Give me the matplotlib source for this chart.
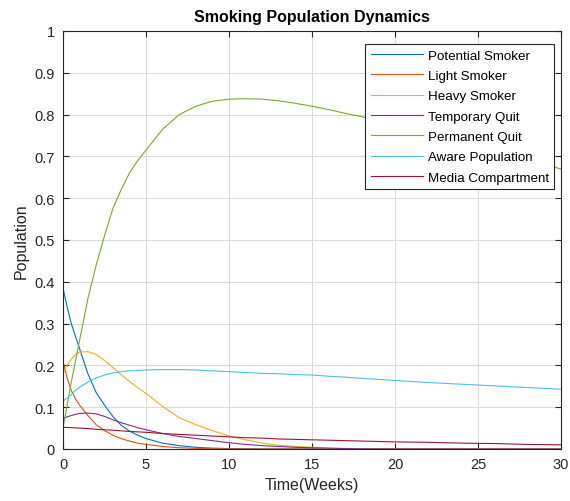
import matplotlib
matplotlib.use("Agg")
import matplotlib.pyplot as plt

plt.rcParams['font.family'] = ['Liberation Sans', 'DejaVu Sans']

time = [0, 0.25, 0.5, 0.75, 1, 1.5, 2, 2.5, 3, 3.5, 4, 4.5, 5, 6, 7, 8, 9, 10, 11,
        12, 13, 14, 15, 16, 17, 18, 20, 22, 24, 26, 28, 30]

potential = [0.385, 0.34, 0.30, 0.27, 0.24, 0.18, 0.135, 0.105, 0.078, 0.057, 0.043,
             0.033, 0.025, 0.014, 0.008, 0.004, 0.002, 0.001, 0.0005,
             0.0, 0.0, 0.0, 0.0, 0.0, 0.0, 0.0, 0.0, 0.0, 0.0, 0.0, 0.0, 0.0]
light = [0.21, 0.17, 0.14, 0.12, 0.105, 0.08, 0.058, 0.044, 0.033, 0.025, 0.019,
         0.014, 0.011, 0.006, 0.003, 0.0015, 0.0007, 0.0003, 0.0001,
         0.0, 0.0, 0.0, 0.0, 0.0, 0.0, 0.0, 0.0, 0.0, 0.0, 0.0, 0.0, 0.0]
heavy = [0.18, 0.20, 0.215, 0.226, 0.232, 0.233, 0.226, 0.212, 0.195, 0.178, 0.162,
         0.147, 0.133, 0.102, 0.075, 0.058, 0.044, 0.031, 0.022,
         0.014, 0.009, 0.006, 0.004, 0.002, 0.001, 0.0005, 0.0, 0.0, 0.0, 0.0, 0.0, 0.0]
temporary = [0.072, 0.077, 0.08, 0.083, 0.085, 0.086, 0.084, 0.078, 0.07, 0.063, 0.057,
             0.051, 0.046, 0.037, 0.03, 0.025, 0.02, 0.015, 0.011,
             0.008, 0.006, 0.004, 0.003, 0.002, 0.001, 0.0005, 0.0, 0.0, 0.0, 0.0, 0.0, 0.0]
permanent = [0.05, 0.105, 0.16, 0.21, 0.26, 0.36, 0.44, 0.51, 0.575, 0.62, 0.66,
             0.69, 0.715, 0.765, 0.80, 0.82, 0.832, 0.837, 0.838,
             0.837, 0.833, 0.827, 0.82, 0.812, 0.803, 0.795, 0.775, 0.755, 0.735,
             0.713, 0.692, 0.67]
aware = [0.115, 0.122, 0.13, 0.14, 0.148, 0.16, 0.17, 0.177, 0.182, 0.185, 0.187,
         0.188, 0.189, 0.19, 0.19, 0.189, 0.187, 0.185, 0.183,
         0.181, 0.18, 0.178, 0.177, 0.174, 0.172, 0.169, 0.164, 0.159, 0.155,
         0.151, 0.147, 0.143]
media = [0.052, 0.0515, 0.051, 0.0505, 0.05, 0.049, 0.047, 0.046, 0.045, 0.0435, 0.042,
         0.041, 0.04, 0.037, 0.035, 0.033, 0.031, 0.029, 0.027,
         0.026, 0.024, 0.023, 0.022, 0.021, 0.02, 0.019, 0.017, 0.016, 0.014,
         0.013, 0.011, 0.01]

labels = ['Potential Smoker', 'Light Smoker', 'Heavy Smoker', 'Temporary Quit',
          'Permanent Quit', 'Aware Population', 'Media Compartment']
colors = ['#0072BD', '#D95319', '#EDB120', '#7E2F8E', '#77AC30', '#4DBEEE', '#A2142F']
series = [potential, light, heavy, temporary, permanent, aware, media]

xticks = [0, 5, 10, 15, 20, 25, 30]
yticks = [0, 0.1, 0.2, 0.3, 0.4, 0.5, 0.6, 0.7, 0.8, 0.9, 1]
ytick_labels = ['0', '0.1', '0.2', '0.3', '0.4', '0.5', '0.6', '0.7', '0.8', '0.9', '1']

fig = plt.figure(figsize=(5.7, 5.02), dpi=100)
ax = fig.add_axes([63/570, 52/502, 498/570, 418/502])

for s, lab, c in zip(series, labels, colors):
    ax.plot(time, s, color=c, lw=0.8, label=lab)

ax.set_xlim(0, 30)
ax.set_ylim(0, 1)
ax.set_xticks(xticks)
ax.set_xticklabels([str(v) for v in xticks])
ax.set_yticks(yticks)
ax.set_yticklabels(ytick_labels)
ax.grid(True, color='#dcdcdc', lw=0.8)
ax.set_axisbelow(True)
ax.tick_params(direction='in', length=4, width=0.8, colors='#262626',
               labelsize=10.5, top=True, right=True, pad=6)
for sp in ax.spines.values():
    sp.set_color('#262626')
    sp.set_linewidth(0.8)

ax.set_title('Smoking Population Dynamics', fontsize=11.5, fontweight='bold', pad=7)
ax.set_xlabel('Time(Weeks)', fontsize=11.5, color='#262626', labelpad=4)
ax.set_ylabel('Population', fontsize=11.5, color='#262626', labelpad=4)

leg = ax.legend(loc='upper right', bbox_to_anchor=(0.992, 0.975), fontsize=9.6,
                frameon=True, fancybox=False, framealpha=1, edgecolor='#262626',
                handlelength=3.9, handletextpad=0.4, labelspacing=0.6,
                borderpad=0.4, borderaxespad=0.2)
leg.get_frame().set_linewidth(0.8)

fig.savefig('out.png', dpi=100)
